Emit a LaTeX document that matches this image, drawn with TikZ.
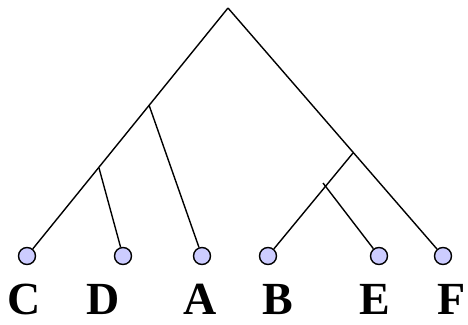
\documentclass[tikz,border=0pt]{standalone}
\usepackage{fontspec}
\setmainfont{Liberation Serif}
\usetikzlibrary{positioning}
\definecolor{leaffill}{RGB}{204,204,255}

\begin{document}
\begin{tikzpicture}[x=1pt, y=-1pt, line width=1.4pt,
	leaf/.style={shape=circle, draw, line width=1.4pt, fill=leaffill, minimum size=17pt, inner sep=0pt},
	taxon/.style={anchor=base, inner sep=0pt, font=\fontsize{46}{46}\selectfont\bfseries}]
			\useasboundingbox (0,0) rectangle (468,324);
			% Leaves and labels:
			\node[leaf] (c) at (27, 256){};
			\node[leaf] (d) at (123, 256){};
			\node[leaf] (a) at (202, 256){};
			\node[leaf] (b) at (268, 256){};
			\node[leaf] (e) at (379, 256){};
			\node[leaf] (f) at (443, 256){};
			\node[taxon] (lc) at (24, 314){C};
			\node[taxon] (ld) at (103, 314){D};
			\node[taxon] (la) at (200, 314){A};
			\node[taxon] (lb) at (278, 314){B};
			\node[taxon] (le) at (375, 314){E};
			\node[taxon] (lf) at (452, 314){F};
			% Branch points:
			\coordinate (root) at (228, 8);
			\coordinate (cda) at (149, 105);
			\coordinate (cd) at (99, 168);
			\coordinate (bef) at (353, 153);
			\coordinate (be) at (323, 183);
			% Branches:
			\draw (root) -- (c);
			\draw (root) -- (f);
			\draw (cda) -- (a);
			\draw (cd) -- (d);
			\draw (bef) -- (b);
			\draw (be) -- (e);
		\end{tikzpicture}
\end{document}
